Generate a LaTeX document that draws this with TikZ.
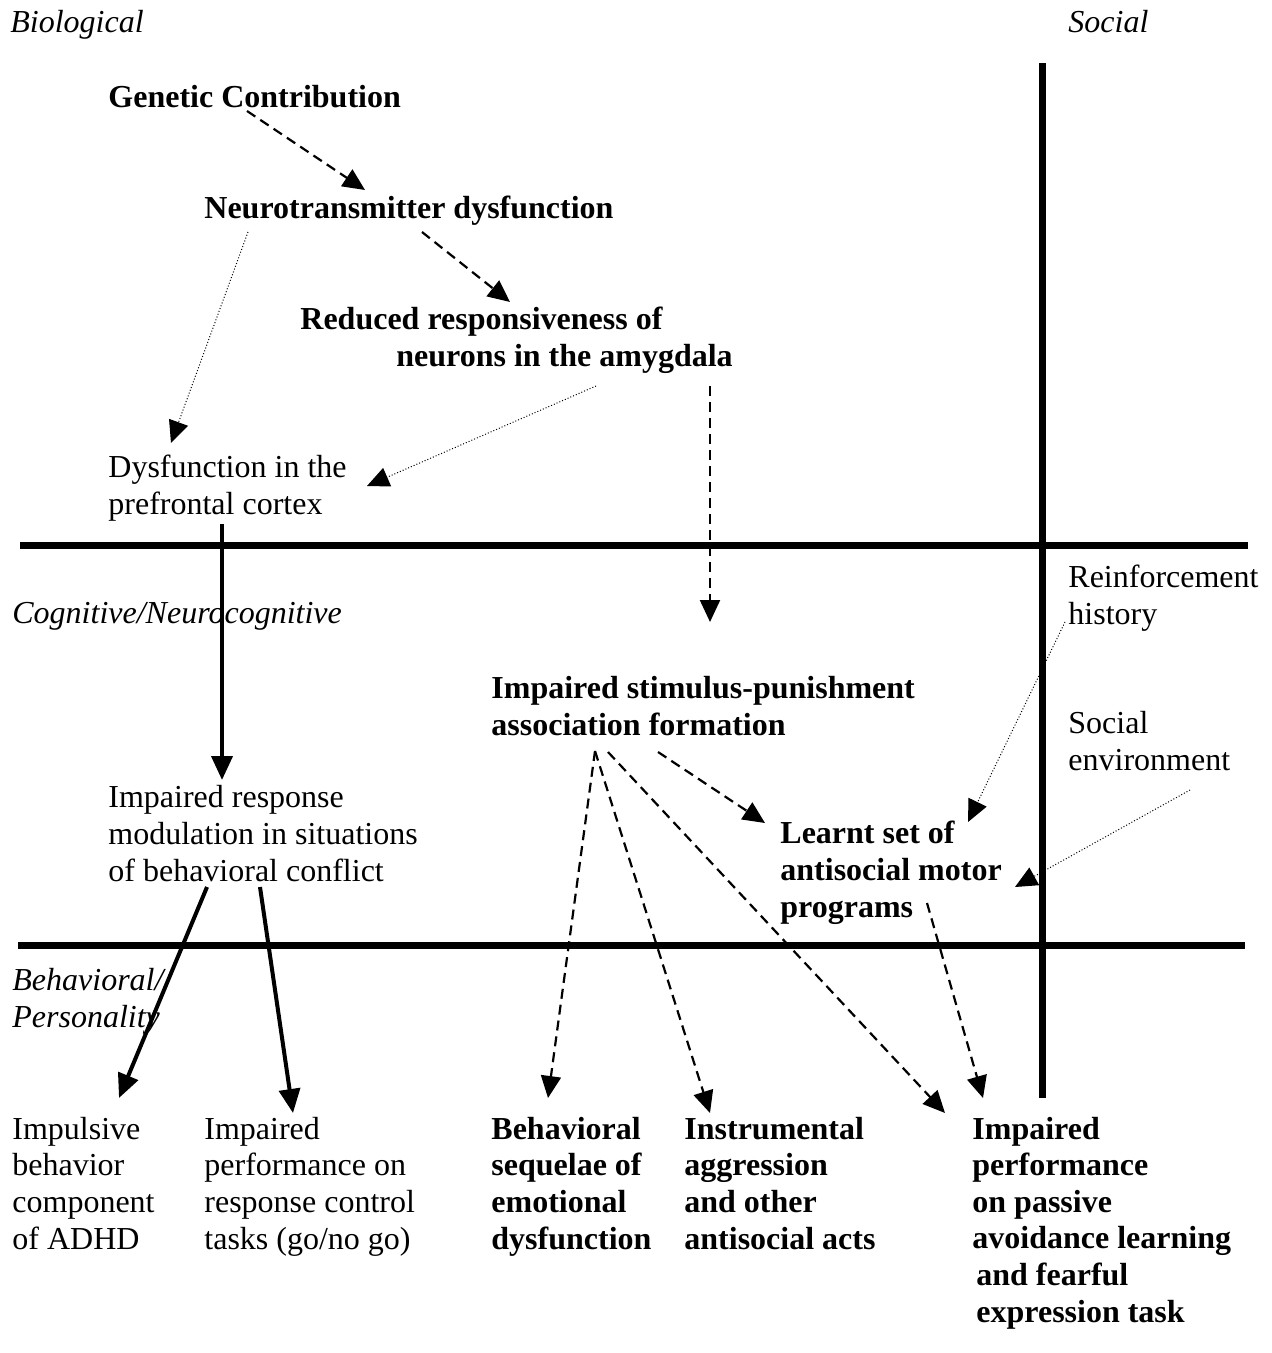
\documentclass[tikz,border=0pt]{standalone}
\usepackage{fontspec}
\setmainfont{Liberation Serif}
\usetikzlibrary{arrows.meta,calc}

\begin{document}
\begin{tikzpicture}[x=0.5pt,y=0.5pt,yscale=-1,xscale=1,
  txt/.style={anchor=base west,inner sep=0pt,align=left,font=\fontsize{16}{18.3}\selectfont},
  bftxt/.style={txt,font=\fontsize{16}{18.3}\selectfont\bfseries},
  itxt/.style={txt,font=\fontsize{16}{18.3}\selectfont\itshape},
  axisline/.style={line width=3.5pt},
  fullarr/.style={line width=2pt,-{Triangle[length=12pt,width=10.5pt]}},
  dasharr/.style={line width=1.1pt,dash pattern=on 5pt off 3pt,-{Triangle[length=11pt,width=10pt]}},
  dotarr/.style={line width=0.5pt,densely dotted,-{Triangle[length=11pt,width=10pt]}}]
\useasboundingbox (0,0) rectangle (1271,1353);

%Shape: Axes
\draw [axisline] (1042,63) -- (1042,1098) ;
\draw [axisline] (20,545) -- (1248,545) ;
\draw [axisline] (18,945) -- (1245,945) ;

% Text Node (base = last line)
\node [itxt] (biol) at (10,33) {Biological};
% Text Node
\node [itxt] (social) at (1068,33) {Social};
% Text Node
\node [itxt] (cogn) at (12,623) {Cognitive/Neurocognitive};
% Text Node
\node [itxt] (behav) at (12,1027) {Behavioral/\\Personality};

% Text Node
\node [bftxt] (gen) at (108,108) {Genetic Contribution};
% Text Node
\node [bftxt] (neuro) at (204,219) {Neurotransmitter dysfunction};
% Text Node
\node [bftxt] (amyg) at (300,366) {Reduced responsiveness of\\\hspace*{48pt}neurons in the amygdala};
% Text Node
\node [txt] (pfc) at (108,514) {Dysfunction in the\\prefrontal cortex};
% Text Node
\node [bftxt] (stim) at (491,735) {Impaired stimulus-punishment\\association formation};
% Text Node
\node [txt] (resp) at (108,881) {Impaired response\\modulation in situations\\of behavioral conflict};
% Text Node
\node [bftxt] (learnt) at (780,917) {Learnt set of\\antisocial motor\\programs};
% Text Node
\node [txt] (reinf) at (1068,624) {Reinforcement\\history};
% Text Node
\node [txt] (socenv) at (1068,770) {Social\\environment};

% Text Node
\node [txt] (adhd) at (12,1249) {Impulsive\\behavior\\component\\of ADHD};
% Text Node
\node [txt] (gonogo) at (204,1249) {Impaired\\performance on\\response control\\tasks (go/no go)};
% Text Node
\node [bftxt] (sequel) at (491,1249) {Behavioral\\sequelae of\\emotional\\dysfunction};
% Text Node
\node [bftxt] (instr) at (684,1249) {Instrumental\\aggression\\and other\\antisocial acts};
% Text Node
\node [bftxt] (passive) at (972,1322) {Impaired\\performance\\on passive\\avoidance learning\\\hspace*{2pt}and fearful\\\hspace*{2pt}expression task};

%Arrows
\draw [dasharr] ($(gen.base west)+(139,3)$) -- ($(neuro.base west)+(161,-29)$) ;
\draw [dasharr] ($(neuro.base west)+(218,13)$) -- ($(amyg.base west)+(210,-64)$) ;
\draw [dotarr] ($(neuro.base west)+(44,13)$) -- ($(pfc.base west)+(63,-71)$) ;
\draw [dotarr] ($(amyg.base west)+(296,20)$) -- ($(pfc.base west)+(259,-28)$) ;
\draw [dasharr] ($(amyg.base west)+(410,20)$) -- ($(stim.base west)+(219,-113)$) ;
\draw [fullarr] ($(pfc.base west)+(114,10)$) -- ($(resp.base west)+(114,-101)$) ;
\draw [dasharr] ($(stim.base west)+(167,17)$) -- ($(learnt.base west)+(-15,-94)$) ;
\draw [dasharr] ($(stim.base west)+(104,16)$) -- ($(sequel.base west)+(57,-151)$) ;
\draw [dasharr] ($(stim.base west)+(104,16)$) -- ($(instr.base west)+(26,-136)$) ;
\draw [dasharr] ($(stim.base west)+(117,17)$) -- ($(passive.base west)+(-27,-209)$) ;
\draw [dasharr] ($(learnt.base west)+(147,-14)$) -- ($(passive.base west)+(11,-224)$) ;
\draw [dotarr] ($(reinf.base west)+(-3,-2)$) -- ($(learnt.base west)+(188,-95)$) ;
\draw [dotarr] ($(socenv.base west)+(122,20)$) -- ($(learnt.base west)+(235,-30)$) ;
\draw [fullarr] ($(resp.base west)+(99,6)$) -- ($(adhd.base west)+(107,-151)$) ;
\draw [fullarr] ($(resp.base west)+(152,6)$) -- ($(gonogo.base west)+(89,-136)$) ;
\end{tikzpicture}
\end{document}
